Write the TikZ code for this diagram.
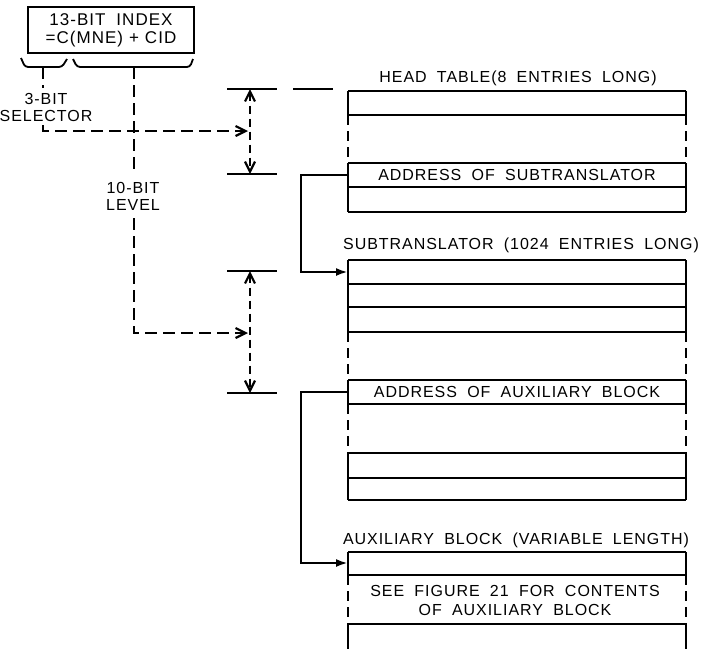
\documentclass[tikz,border=0pt]{standalone}
\usepackage{fontspec}
\newfontfamily\lettering{Liberation Sans}[LetterSpace=6, WordSpace=1.9]
\usetikzlibrary{arrows.meta, calc}

\begin{document}
\begin{tikzpicture}[x=1pt, y=-1pt,
    lbl/.style={font=\lettering\fontsize{16}{17}\selectfont, inner sep=0pt, align=center},
    tbl/.style={line width=1.8pt},
    tblgap/.style={line width=1.8pt, dash pattern=on 10pt off 6pt},
    dsh/.style={line width=2.6pt, dash pattern=on 12pt off 6pt},
    dim/.style={line width=2.2pt, dash pattern=on 8pt off 5pt},
    conn/.style={line width=2.4pt, -{Latex[length=12pt, width=8pt]}},
    vtip/.tip={Straight Barb[length=10pt, width=10pt, line width=2.2pt]}]
  \useasboundingbox (0,0) rectangle (702,649);

  % the index word and its two fields
  \node[draw, line width=2pt, minimum width=166pt, minimum height=46pt, lbl,
    font=\lettering\fontsize{17}{18}\selectfont] (index) at (111,30)
    {13-BIT INDEX\\=C(MNE)\kern6pt+\kern6pt CID};
  \draw[line width=1.8pt, rounded corners=3pt] (21,58) -- (25,67) -- (62,67) -- (67,59);
  \draw[line width=1.8pt, rounded corners=3pt] (73,59) -- (77,67) -- (190,67) -- (193,59);
  \coordinate (selbrace) at (43,67);
  \coordinate (lvlbrace) at (134,67);

  \node[lbl] (sel) at (46,107) {3-BIT\\SELECTOR};
  \node[lbl] (lvl) at (133,196) {10-BIT\\LEVEL};

  % dimension marks
  \foreach \y in {89,174,271,393}{
    \draw[line width=1.8pt] (227,\y) -- (277,\y);
  }
  \draw[line width=1.8pt] (293,89) -- (333,89);
  \coordinate (dimA) at (250,131);
  \coordinate (dimB) at (250,333);
  \draw[dim, vtip-vtip] (250,89) -- (250,174);
  \draw[dim, vtip-vtip] (250,271) -- (250,393);

  % selector and level paths
  \draw[dsh] (selbrace) -- (selbrace |- 0,88);
  \draw[dsh, -vtip] (selbrace |- 0,125) |- ($(dimA)+(-2,0)$);
  \draw[dsh] (lvlbrace) -- (lvlbrace |- 0,174);
  \draw[dsh, -vtip] (lvlbrace |- 0,218) |- ($(dimB)+(-2,0)$);

  % head table
  \node[lbl] (headtitle) at (518,78) {HEAD TABLE(8 ENTRIES LONG)};
  \foreach \y in {91,115,163,187,212}{
    \draw[tbl] (348,\y) -- (686,\y);
  }
  \foreach \x in {348,686}{
    \draw[tbl] (\x,91) -- (\x,115) (\x,163) -- (\x,212);
    \draw[tblgap] (\x,115) -- (\x,163);
  }
  \node[lbl] (subaddr) at (517,175) {ADDRESS OF SUBTRANSLATOR};

  % subtranslator
  \node[lbl] (subtitle) at (521,245) {SUBTRANSLATOR (1024 ENTRIES LONG)};
  \foreach \y in {260,284,307,332,380,404,453,478,500}{
    \draw[tbl] (348,\y) -- (686,\y);
  }
  \foreach \x in {348,686}{
    \draw[tbl] (\x,260) -- (\x,332) (\x,380) -- (\x,404) (\x,453) -- (\x,500);
    \draw[tblgap] (\x,332) -- (\x,380) (\x,404) -- (\x,453);
  }
  \node[lbl] (auxaddr) at (517,392) {ADDRESS OF AUXILIARY BLOCK};

  % auxiliary block
  \node[lbl] (auxtitle) at (516,540) {AUXILIARY BLOCK (VARIABLE LENGTH)};
  \foreach \y in {552,575,624}{
    \draw[tbl] (348,\y) -- (686,\y);
  }
  \foreach \x in {348,686}{
    \draw[tbl] (\x,552) -- (\x,575) (\x,624) -- (\x,649);
    \draw[tblgap] (\x,575) -- (\x,624);
  }
  \node[lbl, font=\lettering\fontsize{16}{19}\selectfont] (auxnote) at (515,600)
    {SEE FIGURE 21 FOR CONTENTS\\OF AUXILIARY BLOCK};

  % pointers
  \coordinate (headrow) at (348,175);
  \coordinate (subtop) at (348,272);
  \coordinate (subrow) at (348,392);
  \coordinate (auxtop) at (348,563);
  \draw[conn] (headrow) -- ++(-47,0) |- (subtop);
  \draw[conn] (subrow) -- ++(-47,0) |- (auxtop);
\end{tikzpicture}
\end{document}
